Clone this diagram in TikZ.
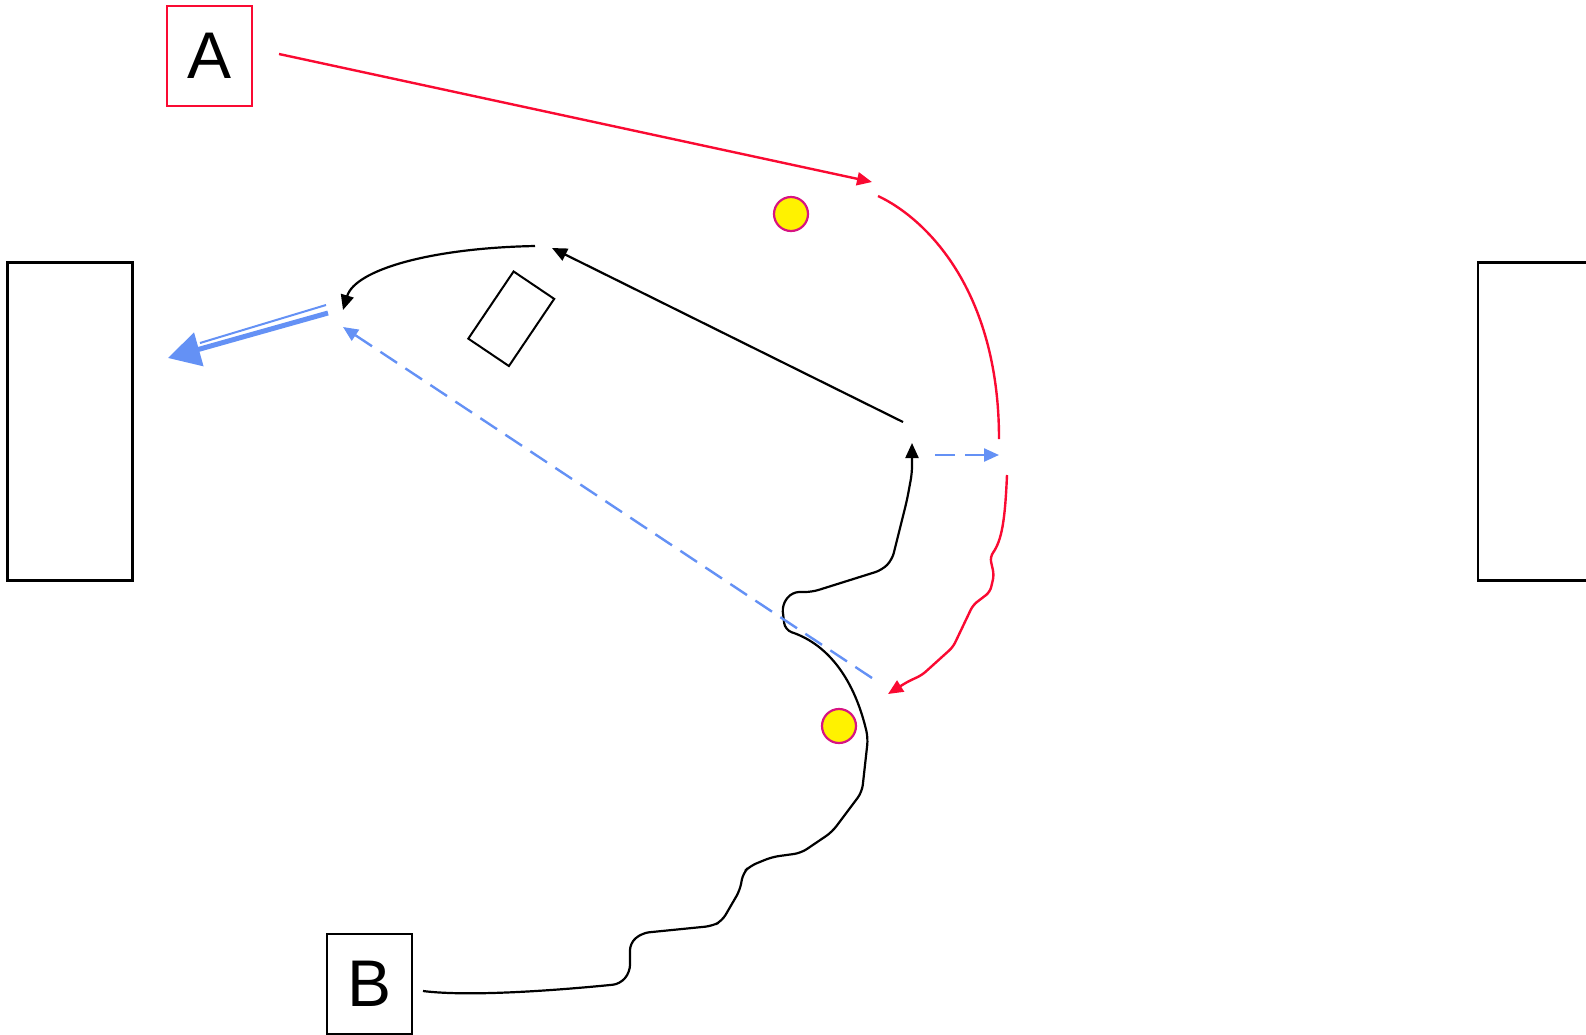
\documentclass[tikz,border=0pt]{standalone}
\usepackage{fontspec}
\setmainfont{Liberation Sans}
\usetikzlibrary{arrows.meta}
\definecolor{runred}{RGB}{250,10,50}
\definecolor{passblue}{RGB}{100,145,245}
\definecolor{rimred}{RGB}{215,20,130}
\colorlet{runcol}{runred}
\colorlet{passcol}{passblue}
\colorlet{rimcol}{rimred}
\colorlet{linecol}{black}
\tikzset{every node/.style={font=\fontsize{66}{70}\selectfont}}
\tikzset{
  labelbox/.style={draw=linecol, line width=2pt, minimum width=85pt,
    minimum height=100pt, inner sep=0pt},
  goalbox/.style={draw=linecol, line width=2.5pt, minimum width=125pt,
    minimum height=318pt},
  player/.style={circle, fill=yellow, draw=rimcol, line width=2.2pt,
    minimum size=34pt, inner sep=0pt},
  conebox/.style={draw=linecol, line width=2pt, minimum width=81pt,
    minimum height=49pt, inner sep=0pt},
  runline/.style={runcol, line width=2.4pt},
  moveline/.style={linecol, line width=2.2pt},
  passline/.style={passcol, line width=2.4pt, dash pattern=on 20pt off 10pt}
}

\begin{document}
\begin{tikzpicture}[x=1pt, y=-1pt, >={Triangle[length=15pt,width=13pt]}]

  % Page.
  \clip (0,0) rectangle (1586,1034);

  % Goals, the right one runs off the page.
  \node[goalbox] (goalL) at (70,421.5) {};
  \node[goalbox] (goalR) at (1540.5,421.5) {};

  % Label boxes.
  \node[labelbox, draw=runcol] (boxA) at (209.5,56) {A};
  \node[labelbox] (boxB) at (369.5,984) {B};

  % Players and cone.
  \node[player] (playerA) at (791,214) {};
  \node[player] (playerB) at (839,726) {};
  \node[conebox, rotate=56] (cone) at (511.25,318.75) {};

  % Free ends of the paths.
  \coordinate (runA) at (279,54);
  \coordinate (runB) at (872,182);
  \coordinate (runC) at (878,196);
  \coordinate (runD) at (999,439);
  \coordinate (runE) at (1007,475);
  \coordinate (runF) at (888,694);
  \coordinate (moveA) at (903,422);
  \coordinate (moveB) at (552,248);
  \coordinate (moveC) at (535,246);
  \coordinate (moveD) at (343,310);
  \coordinate (dribA) at (423,991);
  \coordinate (dribB) at (912,443);
  \coordinate (passA) at (872,678);
  \coordinate (passB) at (343,327);
  \coordinate (passC) at (935,455);
  \coordinate (passD) at (999,455);
  \coordinate (shotA) at (328,313);
  \coordinate (shotB) at (168,358);
  \coordinate (shotC) at (326,305);
  \coordinate (shotD) at (200,343);

  % Run of A (red).
  \draw[->, runline] (runA) -- (runB);
  \draw[runline] (runC) .. controls (925,218) and (999,289) .. (runD);
  \draw[->, runline, rounded corners=5pt] (runE)
    .. controls (1005,520) and (1002,540) .. (990,557)
    -- (994,575) -- (990,592) -- (973,605) -- (953,647)
    -- (922,675) -- (907,682) -- (runF);

  % Moves (black).
  \draw[->, moveline] (moveA) -- (moveB);
  \draw[->, moveline] (moveC) .. controls (430,248) and (355,270) .. (moveD);

  % Dribble of B (black).
  \draw[->, moveline, rounded corners=7pt] (dribA)
    .. controls (470,997) and (560,990) .. (620,984)
    -- (630,972) -- (630,943) -- (642,933) -- (712,926) -- (722,921)
    -- (740,890) -- (743,873) -- (750,866) -- (772,857) -- (801,853)
    -- (832,832) -- (862,792) -- (868,738)
    .. controls (855,682) and (830,645) .. (785,630)
    -- (782,605) -- (792,592) -- (812,592) -- (882,570) -- (892,560)
    -- (907,500) -- (912,473) -- (dribB);

  % Passes (blue, dashed).
  \draw[->, passline] (passA) -- (passB);
  \draw[->, passline] (passC) -- (passD);

  % Shot (blue, thin and thick).
  \draw[passcol, line width=2pt] (shotC) -- (shotD);
  \draw[-{Triangle[length=32pt,width=34pt]}, passcol, line width=5pt]
    (shotA) -- (shotB);

\end{tikzpicture}
\end{document}
